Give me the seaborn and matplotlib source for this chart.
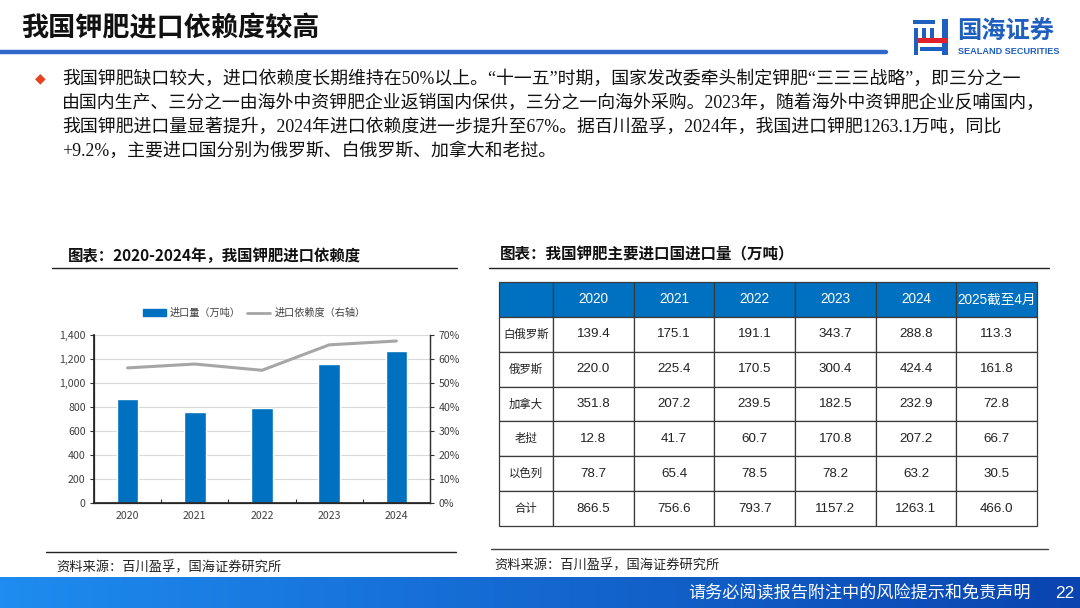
import numpy as np
import pandas as pd
import matplotlib
matplotlib.use("Agg")
import matplotlib.pyplot as plt
import matplotlib.patches as mpatches
from matplotlib.lines import Line2D
from matplotlib.ticker import FuncFormatter, MultipleLocator, FixedLocator
import seaborn as sns

# chart data
years = ['2020', '2021', '2022', '2023', '2024']
import_vol = [866.5, 756.6, 793.7, 1157.2, 1263.1]      # 万吨
dependency = [56.3, 57.9, 55.3, 65.9, 67.5]             # %

# table data
table_cols = ['2020', '2021', '2022', '2023', '2024', '2025截至4月']
countries = ['白俄罗斯', '俄罗斯', '加拿大', '老挝', '以色列', '合计']
belarus = [139.4, 175.1, 191.1, 343.7, 288.8, 113.3]
russia = [220.0, 225.4, 170.5, 300.4, 424.4, 161.8]
canada = [351.8, 207.2, 239.5, 182.5, 232.9, 72.8]
laos = [12.8, 41.7, 60.7, 170.8, 207.2, 66.7]
israel = [78.7, 65.4, 78.5, 78.2, 63.2, 30.5]
total = [866.5, 756.6, 793.7, 1157.2, 1263.1, 466.0]

title = '我国钾肥进口依赖度较高'
para = [
    '我国钾肥缺口较大，进口依赖度长期维持在50%以上。“十一五”时期，国家发改委牵头制定钾肥“三三三战略”，即三分之一',
    '由国内生产、三分之一由海外中资钾肥企业返销国内保供，三分之一向海外采购。2023年，随着海外中资钾肥企业反哺国内，',
    '我国钾肥进口量显著提升，2024年进口依赖度进一步提升至67%。据百川盈孚，2024年，我国进口钾肥1263.1万吨，同比',
    '+9.2%，主要进口国分别为俄罗斯、白俄罗斯、加拿大和老挝。',
]
chart1_title = '图表：2020-2024年，我国钾肥进口依赖度'
chart2_title = '图表：我国钾肥主要进口国进口量（万吨）'
source = '资料来源：百川盈孚，国海证券研究所'
footer = '请务必阅读报告附注中的风险提示和免责声明'
page_no = '22'

sns.set_theme(style='white')
CJK = ['Noto Sans CJK SC', 'DejaVu Sans']
plt.rcParams['font.family'] = CJK
plt.rcParams['axes.unicode_minus'] = False

W, H = 1080, 608
fig = plt.figure(figsize=(10.8, 6.08), dpi=100)
fig.patch.set_facecolor('white')


def fx(x):
    return x / W


def fy(y):
    return 1 - y / H


def pax(x0, y0, x1, y1):
    return fig.add_axes([fx(x0), fy(y1), fx(x1 - x0), (y1 - y0) / H])


BLUE = '#0070C0'

# ---- header ----
fig.text(fx(21), fy(28), title, fontsize=19.5, fontweight='bold', color='#111111',
         va='center', ha='left')
fig.add_artist(Line2D([0, fx(886)], [fy(52), fy(52)], color='#2F68C8', lw=3.2))

# logo
logo_blue = '#1F5FBF'
for (x0, y0, w, h, c) in [(913, 20, 22, 4, logo_blue), (914, 28, 4, 27, logo_blue),
                          (922, 28, 4, 14, logo_blue), (930, 28, 4, 14, logo_blue),
                          (942, 19, 6, 36, logo_blue), (918, 38, 30, 5, '#E0202A'),
                          (920, 47, 22, 4, logo_blue)]:
    fig.add_artist(mpatches.Rectangle((fx(x0), fy(y0 + h)), w / W, h / H,
                                      color=c, transform=fig.transFigure, lw=0))
fig.text(fx(957), fy(32), '国海证券', fontsize=17.5, fontweight='bold', color=logo_blue,
         va='center', ha='left')
fig.text(fx(958), fy(51), 'SEALAND SECURITIES', fontsize=6.6, fontweight='bold',
         color=logo_blue, va='center', ha='left', family=['Liberation Sans'])

# ---- paragraph ----
fig.text(fx(40), fy(78), '◆', fontsize=10, color='#E8431F', va='center', ha='center',
         family=['DejaVu Sans'])
for i, line in enumerate(para):
    fig.text(fx(62), fy(79 + 24 * i), line, fontsize=12.9, color='#111111',
             va='center', ha='left', family=['Liberation Serif', 'Noto Sans CJK SC'])

# ---- chart 1 ----
fig.text(fx(68), fy(256), chart1_title, fontsize=11.1, fontweight='bold', color='#111111',
         va='center', ha='left')
fig.add_artist(Line2D([fx(52), fx(457)], [fy(268), fy(268)], color='#222222', lw=1.0))

ax = pax(94, 335, 430, 503)
df = pd.DataFrame({'year': years, 'vol': import_vol, 'dep': dependency})
sns.barplot(data=df, x='year', y='vol', color=BLUE, width=0.32, saturation=1,
            ax=ax, zorder=3)
ax.set_xlim(-0.5, 4.5)
ax.set_ylim(0, 1400)
ax.yaxis.set_major_locator(MultipleLocator(200))
ax.yaxis.set_major_formatter(FuncFormatter(lambda v, p: f'{int(v):,}'))
ax.grid(axis='y', color='#D9D9D9', lw=0.8, zorder=0)
ax.set_axisbelow(True)
ax.set_xlabel('')
ax.set_ylabel('')
ax.spines['top'].set_visible(False)
for s in ['left', 'bottom', 'right']:
    ax.spines[s].set_color('#333333')
    ax.spines[s].set_linewidth(0.9)
ax.tick_params(axis='y', length=3, width=0.8, color='#333333', labelsize=7.6,
               labelcolor='#404040', pad=3, direction='out', left=True)
ax.tick_params(axis='x', which='major', length=0, labelsize=7.6, labelcolor='#404040', pad=6)
ax.xaxis.set_minor_locator(FixedLocator([0.5, 1.5, 2.5, 3.5]))
ax.tick_params(axis='x', which='minor', length=3, width=0.8, color='#333333',
               direction='in', bottom=True)

ax2 = ax.twinx()
sns.lineplot(x=np.arange(len(years)), y=df['dep'], color='#A6A6A6', lw=2.2, ax=ax2,
             zorder=4)
ax2.set_ylim(0, 70)
ax2.set_xlim(-0.5, 4.5)
ax2.yaxis.set_major_locator(MultipleLocator(10))
ax2.yaxis.set_major_formatter(FuncFormatter(lambda v, p: f'{int(v)}%'))
ax2.set_ylabel('')
ax2.spines['top'].set_visible(False)
ax2.spines['right'].set_color('#333333')
ax2.spines['right'].set_linewidth(0.9)
ax2.tick_params(axis='y', length=3, width=0.8, color='#333333', labelsize=7.6,
                labelcolor='#404040', pad=3, direction='out', right=True)
ax2.grid(False)

handles = [mpatches.Patch(color=BLUE, label='进口量（万吨）'),
           Line2D([0], [0], color='#A6A6A6', lw=2, label='进口依赖度（右轴）')]
fig.legend(handles=handles, loc='center', bbox_to_anchor=(fx(254), fy(313)), ncol=2,
           frameon=False, fontsize=7.3, handlelength=2.3, handleheight=0.7,
           columnspacing=0.6, handletextpad=0.4, labelcolor='#404040')

fig.add_artist(Line2D([fx(46), fx(456)], [fy(552), fy(552)], color='#222222', lw=1.0))
fig.text(fx(56), fy(568), source, fontsize=9.5, color='#222222', va='center', ha='left')

# ---- chart 2 (table) ----
fig.text(fx(500), fy(254), chart2_title, fontsize=11.2, fontweight='bold', color='#111111',
         va='center', ha='left')
fig.add_artist(Line2D([fx(489), fx(1049)], [fy(268), fy(268)], color='#222222', lw=1.0))

tax = pax(499, 282, 1037, 526)
tax.axis('off')
rows = [belarus, russia, canada, laos, israel, total]
cell_text = [[''] + table_cols]
for name, vals in zip(countries, rows):
    cell_text.append([name] + [f'{v:.1f}' for v in vals])
first_w = 54 / 538
other_w = (1 - first_w) / 6
tbl = tax.table(cellText=cell_text, cellLoc='center', bbox=[0, 0, 1, 1],
                colWidths=[first_w] + [other_w] * 6)
tbl.auto_set_font_size(False)
for (r, c), cell in tbl.get_celld().items():
    cell.set_edgecolor('#3A3A3A')
    cell.set_linewidth(0.9)
    txt = cell.get_text()
    txt.set_family(['Liberation Sans', 'Noto Sans CJK SC'])
    if r == 0:
        cell.set_facecolor(BLUE)
        txt.set_color('white')
        txt.set_fontsize(9.8)
    else:
        cell.set_facecolor('white')
        txt.set_color('#222222')
        txt.set_fontsize(8.2 if c == 0 else 9.6)

fig.add_artist(Line2D([fx(491), fx(1048)], [fy(549), fy(549)], color='#444444', lw=1.0))
fig.text(fx(494), fy(566), source, fontsize=9.5, color='#222222', va='center', ha='left')

# ---- footer bar ----
fax = pax(0, 577, 1080, 608)
grad = np.linspace(0, 1, 256).reshape(1, -1)
cmap = matplotlib.colors.LinearSegmentedColormap.from_list('foot', ['#1E8CF0', '#0A44B0'])
fax.imshow(grad, aspect='auto', cmap=cmap, extent=[0, 1, 0, 1])
fax.axis('off')
fig.text(fx(1031), fy(593), footer, fontsize=12.3, color='white', va='center', ha='right')
fig.text(fx(1074), fy(593), page_no, fontsize=12.5, color='white', va='center', ha='right',
         family=['Liberation Sans'])

fig.savefig('out.png', dpi=100)
